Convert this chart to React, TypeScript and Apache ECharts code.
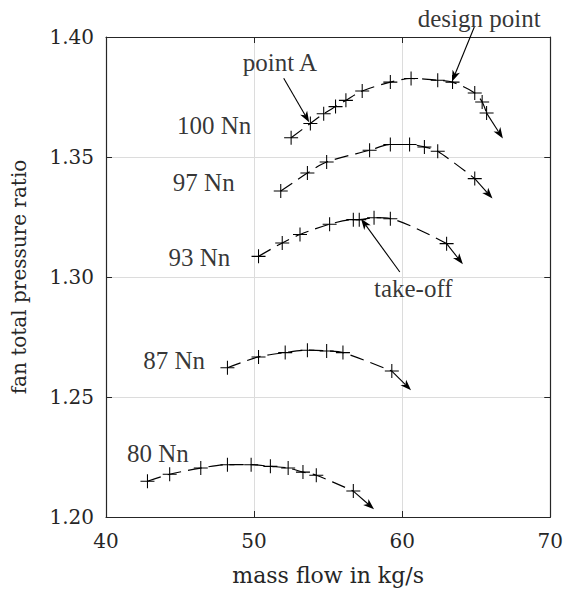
import React, { useEffect, useRef } from 'react';
import * as echarts from 'echarts';

const xTicks = { min: 40, max: 70, step: 10 };
const yTicks = { min: 1.2, max: 1.4, step: 0.05 };

const speedNames = ['100 Nn', '97 Nn', '93 Nn', '87 Nn', '80 Nn'];

const speed100 = [[52.5, 1.358], [53.8, 1.364], [54.7, 1.368], [55.5, 1.371], [56.2, 1.3736], [57.3, 1.3775], [59.2, 1.3812], [60.6, 1.3827], [62.4, 1.382], [63.4, 1.3812], [64.9, 1.3767], [65.4, 1.3729], [65.7, 1.3683]];
const speed97 = [[51.8, 1.3358], [53.6, 1.3433], [54.9, 1.3479], [57.8, 1.3528], [59.2, 1.3552], [60.5, 1.3552], [61.5, 1.3542], [62.4, 1.3524], [64.9, 1.341]];
const speed93 = [[50.3, 1.3086], [51.9, 1.3142], [53.1, 1.3177], [55.1, 1.322], [56.7, 1.3239], [57.1, 1.3239], [58.1, 1.3247], [59.2, 1.3243], [63.0, 1.3139]];
const speed87 = [[48.2, 1.2622], [50.3, 1.2667], [52.1, 1.2685], [53.6, 1.2695], [54.9, 1.2692], [56.0, 1.2685], [59.3, 1.2608]];
const speed80 = [[42.8, 1.2149], [44.3, 1.2178], [46.4, 1.2204], [48.2, 1.2218], [49.8, 1.2218], [51.1, 1.2211], [52.3, 1.2204], [53.3, 1.2187], [54.2, 1.2174], [56.7, 1.2108]];

// end points of the arrows continuing each speed line
const arrowEnds = [[66.8, 1.3577], [66.1, 1.3327], [64.1, 1.3053], [60.6, 1.2528], [58.1, 1.2032]];

// speed line labels (center positions)
const speedLabelPos = [[47.3, 1.3632], [46.6, 1.3395], [46.3, 1.3082], [44.6, 1.2653], [43.5, 1.2265]];

// annotations
const annotNames = ['point A', 'design point', 'take-off'];
const annotLabelPos = [[51.75, 1.3892], [65.2, 1.4078], [60.75, 1.2953]];
const annotTails = [[52.0, 1.3828], [64.87, 1.4042], [59.84, 1.3021]];
const annotTips = [[53.72, 1.3645], [63.37, 1.3815], [57.22, 1.3243]];

const speeds = [speed100, speed97, speed93, speed87, speed80];

const INK = '#000';
const FRAME = '#262626';
const PLUS = 'path://M9.25,0h1.5v20h-1.5z M0,9.25h20v1.5h-20z';
const CM = 'DejaVu Serif';
const TIMES = 'Liberation Serif';

export default function App() {
  const ref = useRef<HTMLDivElement>(null);
  useEffect(() => {
    const chart = echarts.init(ref.current!, null, { renderer: 'svg' });
    const tickFont = { fontFamily: CM, fontSize: 20, color: FRAME };
    const annFont = { fontFamily: TIMES, fontSize: 25, color: INK };

    const arrowItem = (p0: number[], p1: number[]) => {
      const dx = p1[0] - p0[0];
      const dy = p1[1] - p0[1];
      const len = Math.sqrt(dx * dx + dy * dy) || 1;
      const ux = dx / len, uy = dy / len;
      const px = -uy, py = ux;
      const L = 11, W = 4, N = 8;
      const b = [p1[0] - ux * L, p1[1] - uy * L];
      const n = [p1[0] - ux * N, p1[1] - uy * N];
      return {
        type: 'group',
        children: [
          { type: 'line', shape: { x1: p0[0], y1: p0[1], x2: n[0], y2: n[1] }, style: { stroke: INK, lineWidth: 1.1 } },
          {
            type: 'polygon',
            shape: { points: [p1, [b[0] + px * W, b[1] + py * W], n, [b[0] - px * W, b[1] - py * W]] },
            style: { fill: INK },
          },
        ],
      };
    };

    const lineSeries = speeds.map((d, i) => ({
      type: 'line',
      name: speedNames[i],
      data: d,
      smooth: 0.3,
      clip: false,
      symbol: PLUS,
      symbolSize: 14,
      showSymbol: true,
      showAllSymbol: true,
      itemStyle: { color: INK },
      lineStyle: { color: INK, width: 1.2, type: [14, 7] },
      z: 3,
    }));

    const arrowData = [
      ...speeds.map((d, i) => [...d[d.length - 1], ...arrowEnds[i]]),
      ...annotTails.map((t, i) => [...t, ...annotTips[i]]),
    ];

    const arrowSeries = {
      type: 'custom',
      clip: false,
      silent: true,
      data: arrowData,
      encode: { x: [0, 2], y: [1, 3] },
      renderItem: (params: any, api: any) => {
        const p0 = api.coord([api.value(0), api.value(1)]);
        const p1 = api.coord([api.value(2), api.value(3)]);
        return arrowItem(p0, p1);
      },
      z: 4,
    };

    const labelSeries = {
      type: 'scatter',
      clip: false,
      silent: true,
      symbolSize: 1,
      itemStyle: { color: 'rgba(0,0,0,0)' },
      data: [
        ...speedNames.map((n, i) => ({ name: n, value: speedLabelPos[i] })),
        ...annotNames.map((n, i) => ({ name: n, value: annotLabelPos[i] })),
      ],
      label: { show: true, position: 'inside', formatter: '{b}', ...annFont },
      z: 5,
    };

    const common = { type: 'value' as const };
    chart.setOption({
      animation: false,
      backgroundColor: '#fff',
      grid: { left: 106, right: 13, top: 37, bottom: 74 },
      xAxis: [
        {
          ...common,
          position: 'bottom',
          min: xTicks.min, max: xTicks.max, interval: xTicks.step,
          axisLine: { show: true, onZero: false, lineStyle: { color: FRAME, width: 1.2 } },
          axisTick: { show: true, inside: true, length: 6, lineStyle: { color: FRAME } },
          splitLine: { show: true, lineStyle: { color: '#dcdcdc', width: 1 } },
          axisLabel: { ...tickFont, margin: 14 },
          name: 'mass flow in kg/s',
          nameLocation: 'middle',
          nameGap: 47,
          nameTextStyle: { fontFamily: CM, fontSize: 22, color: FRAME },
        },
        {
          ...common,
          position: 'top',
          min: xTicks.min, max: xTicks.max, interval: xTicks.step,
          axisLine: { show: true, onZero: false, lineStyle: { color: FRAME, width: 1.2 } },
          axisTick: { show: true, inside: true, length: 6, lineStyle: { color: FRAME } },
          splitLine: { show: false },
          axisLabel: { show: false },
        },
      ],
      yAxis: [
        {
          ...common,
          position: 'left',
          min: yTicks.min, max: yTicks.max, interval: yTicks.step,
          axisLine: { show: true, onZero: false, lineStyle: { color: FRAME, width: 1.2 } },
          axisTick: { show: true, inside: true, length: 6, lineStyle: { color: FRAME } },
          splitLine: { show: true, lineStyle: { color: '#dcdcdc', width: 1 } },
          axisLabel: { ...tickFont, margin: 12, formatter: (v: number) => v.toFixed(2) },
          name: 'fan total pressure ratio',
          nameLocation: 'middle',
          nameGap: 77,
          nameTextStyle: { fontFamily: CM, fontSize: 20, color: FRAME },
        },
        {
          ...common,
          position: 'right',
          min: yTicks.min, max: yTicks.max, interval: yTicks.step,
          axisLine: { show: true, onZero: false, lineStyle: { color: FRAME, width: 1.2 } },
          axisTick: { show: true, inside: true, length: 6, lineStyle: { color: FRAME } },
          splitLine: { show: false },
          axisLabel: { show: false },
        },
      ],
      series: [...lineSeries, arrowSeries, labelSeries],
    });
    return () => chart.dispose();
  }, []);
  return <div ref={ref} style={{ position: 'fixed', left: 0, top: 0, width: 566, height: 591 }} />;
}
